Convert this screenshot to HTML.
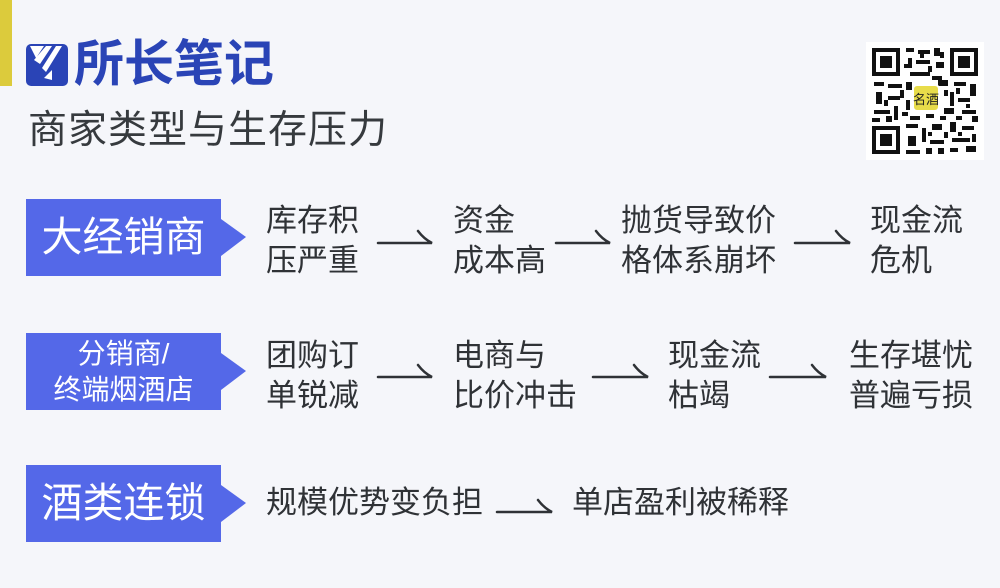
<!DOCTYPE html>
<html><head><meta charset="utf-8"><style>
body{margin:0;width:1000px;height:588px;background:#f5f6fa;position:relative;overflow:hidden;font-family:"Liberation Sans","Noto Sans CJK SC",sans-serif;}
.t{position:absolute;color:#2f3236;font-size:31px;line-height:40px;white-space:nowrap;}
.w{position:absolute;color:#fff;text-align:center;white-space:nowrap;}
svg{position:absolute;left:0;top:0;}
</style></head><body>
<svg width="1000" height="588">
<rect x="0" y="0" width="12" height="86" fill="#dccb3c"/>
<rect x="26" y="44" width="42" height="42" rx="5" fill="#2a44b6"/>
<path d="M30 46 L44 46 L36 58 Z M46 46 L52 46 L40 64 L34 60 Z M56 46 L62 46 L46 72 L42 68 Z" fill="#fff"/>
<path d="M44 78 L52 70 L52 80 Z" fill="#fff"/>
<rect x="26" y="199" width="195" height="77" fill="#5468e8"/>
<polygon points="221,219 246,237 221,256" fill="#5468e8"/>
<rect x="26" y="333" width="195" height="77" fill="#5468e8"/>
<polygon points="221,353 246,371 221,390" fill="#5468e8"/>
<rect x="26" y="465" width="195" height="77" fill="#5468e8"/>
<polygon points="221,485 246,503 221,522" fill="#5468e8"/>
<g stroke="#2f3236" stroke-width="2.5" fill="none" stroke-linecap="round">
<path d="M378 243 H432 Q424 239 418 231"/>
<path d="M556 243 H610 Q602 239 596 231"/>
<path d="M795 243 H850 Q842 239 836 231"/>
<path d="M378 377 H432 Q424 373 418 365"/>
<path d="M593 377 H648 Q640 373 634 365"/>
<path d="M770 377 H826 Q818 373 812 365"/>
<path d="M497 512 H552 Q544 508 538 500"/>
</g>
<rect x="866" y="42" width="118" height="118" fill="#fff"/>
<g fill="#111">
<rect x="872" y="48" width="28" height="28"/><rect x="876" y="52" width="20" height="20" fill="#fff"/><rect x="880" y="56" width="12" height="12"/>
<rect x="950" y="48" width="28" height="28"/><rect x="954" y="52" width="20" height="20" fill="#fff"/><rect x="958" y="56" width="12" height="12"/>
<rect x="872" y="126" width="28" height="28"/><rect x="876" y="130" width="20" height="20" fill="#fff"/><rect x="880" y="134" width="12" height="12"/>
<rect x="906" y="48" width="8" height="4"/><rect x="918" y="50" width="12" height="4"/><rect x="934" y="48" width="6" height="8"/><rect x="908" y="58" width="4" height="10"/><rect x="916" y="60" width="14" height="4"/><rect x="936" y="62" width="8" height="6"/><rect x="910" y="72" width="20" height="4"/>
<rect x="920" y="54" width="4" height="4"/><rect x="928" y="66" width="4" height="6"/><rect x="940" y="52" width="4" height="6"/><rect x="904" y="64" width="4" height="4"/><rect x="932" y="76" width="10" height="4"/>
<rect x="874" y="82" width="10" height="4"/><rect x="888" y="84" width="14" height="4"/><rect x="876" y="92" width="6" height="12"/><rect x="888" y="96" width="12" height="4"/><rect x="874" y="110" width="16" height="4"/><rect x="894" y="106" width="4" height="14"/>
<rect x="884" y="100" width="4" height="6"/><rect x="872" y="118" width="8" height="4"/><rect x="886" y="116" width="6" height="6"/><rect x="900" y="90" width="4" height="8"/><rect x="902" y="112" width="6" height="4"/>
<rect x="906" y="82" width="6" height="8"/><rect x="938" y="80" width="10" height="6"/><rect x="954" y="82" width="12" height="4"/><rect x="970" y="84" width="6" height="12"/><rect x="950" y="92" width="4" height="14"/><rect x="958" y="98" width="12" height="4"/><rect x="944" y="108" width="10" height="6"/><rect x="962" y="110" width="14" height="4"/>
<rect x="944" y="90" width="4" height="6"/><rect x="956" y="88" width="4" height="6"/><rect x="966" y="104" width="4" height="4"/><rect x="972" y="116" width="6" height="6"/><rect x="956" y="116" width="6" height="4"/><rect x="906" y="100" width="4" height="10"/><rect x="940" y="116" width="6" height="4"/><rect x="910" y="116" width="10" height="4"/><rect x="926" y="114" width="8" height="4"/>
<rect x="906" y="124" width="12" height="4"/><rect x="922" y="128" width="4" height="14"/><rect x="932" y="124" width="10" height="6"/><rect x="908" y="136" width="8" height="10"/><rect x="930" y="140" width="14" height="4"/><rect x="950" y="122" width="6" height="10"/><rect x="962" y="126" width="12" height="4"/><rect x="952" y="138" width="18" height="4"/><rect x="966" y="146" width="10" height="6"/><rect x="906" y="150" width="14" height="4"/><rect x="938" y="148" width="6" height="6"/>
<rect x="928" y="132" width="4" height="4"/><rect x="944" y="132" width="4" height="6"/><rect x="958" y="132" width="4" height="4"/><rect x="972" y="134" width="4" height="8"/><rect x="926" y="148" width="6" height="6"/><rect x="950" y="148" width="8" height="4"/>
</g>
<rect x="913" y="85" width="26" height="26" rx="4" fill="#e8dc4a" stroke="#fff" stroke-width="2"/>
<text x="926" y="104" font-size="13" text-anchor="middle" fill="#222" font-family="Noto Sans CJK SC">名酒</text>
</svg>
<div class="t" style="left:74px;top:34px;font-size:50px;line-height:60px;font-weight:bold;color:#2a44b6;">所长笔记</div>
<div class="t" style="left:28px;top:107px;font-size:39px;line-height:48px;color:#363a3e;letter-spacing:1px;">商家类型与生存压力</div>
<div class="w" style="left:26px;top:211px;width:195px;font-size:41px;line-height:52px;">大经销商</div>
<div class="w" style="left:26px;top:336px;width:195px;font-size:28px;line-height:36px;">分销商/<br>终端烟酒店</div>
<div class="w" style="left:26px;top:477px;width:195px;font-size:41px;line-height:52px;">酒类连锁</div>
<div class="t" style="left:266px;top:201px;">库存积<br>压严重</div>
<div class="t" style="left:453px;top:201px;">资金<br>成本高</div>
<div class="t" style="left:621px;top:201px;">抛货导致价<br>格体系崩坏</div>
<div class="t" style="left:870px;top:201px;">现金流<br>危机</div>
<div class="t" style="left:266px;top:336px;">团购订<br>单锐减</div>
<div class="t" style="left:453px;top:336px;">电商与<br>比价冲击</div>
<div class="t" style="left:668px;top:336px;">现金流<br>枯竭</div>
<div class="t" style="left:849px;top:336px;">生存堪忧<br>普遍亏损</div>
<div class="t" style="left:266px;top:483px;">规模优势变负担</div>
<div class="t" style="left:572px;top:483px;">单店盈利被稀释</div>
</body></html>
